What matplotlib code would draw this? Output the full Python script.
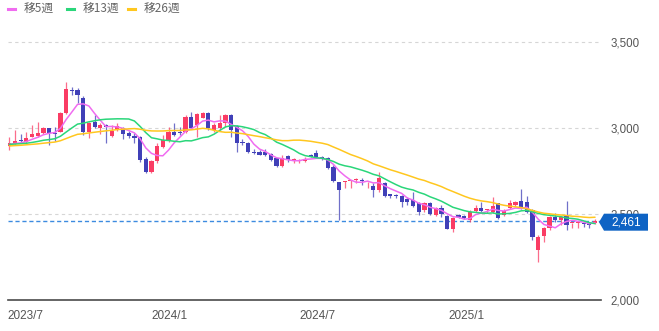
import numpy as np
import pandas as pd
import matplotlib
matplotlib.use("Agg")
import matplotlib.pyplot as plt
import matplotlib.transforms as mtransforms
from matplotlib.lines import Line2D
from matplotlib.patches import Polygon

# weekly bars, first week starting 2023-07-10
week_start = "2023-07-10"

opens = [2895, 2911, 2932, 2921, 2950, 2955, 2969, 2998, 2973, 2979,
         3089, 3221, 3221, 3172, 2979, 3037, 2998, 3017, 2953, 2994,
         2998, 2972, 2955, 2950, 2818, 2746, 2806, 2891, 2930, 2979,
         2975, 2979, 3066, 3017, 3060, 3085, 2990, 3000, 3027, 3076,
         3010, 2920, 2911, 2862, 2860, 2862, 2846, 2824, 2779, 2839,
         2810, 2810, 2810, 2843, 2853, 2833, 2824, 2775, 2688, 2688,
         2692, 2696, 2698, 2672, 2660, 2640, 2678, 2614, 2611, 2607,
         2587, 2582, 2562, 2523, 2566, 2494, 2537, 2490, 2415, 2494,
         2490, 2465, 2520, 2533, 2522, 2514, 2562, 2494, 2533, 2552,
         2578, 2572, 2523, 2291, 2372, 2417, 2485, 2465, 2494, 2446,
         2448, 2450, 2448, 2446]
highs = [2950, 2988, 2965, 2979, 3017, 3037, 3005, 3000, 3008, 3095,
         3269, 3240, 3231, 3185, 3037, 3075, 3027, 3021, 3017, 3027,
         3005, 2980, 2969, 2955, 2833, 2814, 2911, 2959, 3008, 3027,
         3008, 3076, 3095, 3085, 3090, 3090, 3027, 3076, 3080, 3080,
         3017, 2935, 2920, 2876, 2872, 2876, 2853, 2828, 2843, 2843,
         2824, 2818, 2833, 2849, 2872, 2837, 2833, 2785, 2688, 2694,
         2700, 2707, 2707, 2688, 2678, 2746, 2688, 2617, 2614, 2611,
         2600, 2630, 2572, 2568, 2572, 2543, 2552, 2494, 2485, 2500,
         2494, 2523, 2552, 2572, 2529, 2601, 2566, 2527, 2581, 2578,
         2643, 2605, 2527, 2378, 2426, 2489, 2504, 2481, 2576, 2450,
         2456, 2450, 2448, 2469]
lows = [2872, 2901, 2920, 2915, 2945, 2950, 2965, 2901, 2926, 2975,
        3080, 3192, 3143, 2960, 2940, 2998, 2965, 2911, 2948, 2985,
        2935, 2940, 2911, 2800, 2740, 2737, 2795, 2882, 2920, 2955,
        2960, 2969, 2992, 2950, 3055, 2988, 2979, 2988, 3008, 2950,
        2858, 2900, 2853, 2849, 2843, 2839, 2810, 2775, 2775, 2804,
        2798, 2795, 2804, 2829, 2829, 2814, 2760, 2688, 2465, 2650,
        2650, 2680, 2669, 2649, 2600, 2630, 2600, 2591, 2591, 2543,
        2552, 2543, 2494, 2514, 2494, 2490, 2485, 2410, 2395, 2475,
        2470, 2456, 2514, 2514, 2504, 2504, 2469, 2489, 2527, 2546,
        2527, 2504, 2349, 2223, 2339, 2407, 2456, 2436, 2407, 2417,
        2417, 2426, 2417, 2440]
closes = [2911, 2924, 2926, 2944, 2965, 2969, 2998, 2969, 2965, 3089,
          3225, 3215, 3192, 2979, 3027, 3008, 3017, 3008, 2984, 3013,
          2965, 2955, 2940, 2814, 2746, 2806, 2895, 2930, 2979, 2959,
          2970, 3066, 2998, 3081, 3085, 2998, 3015, 3027, 3076, 2990,
          2911, 2915, 2862, 2853, 2845, 2843, 2814, 2779, 2824, 2814,
          2818, 2812, 2820, 2833, 2833, 2818, 2765, 2694, 2640, 2692,
          2698, 2700, 2690, 2675, 2640, 2707, 2607, 2607, 2605, 2572,
          2572, 2548, 2514, 2562, 2498, 2533, 2498, 2415, 2478, 2480,
          2478, 2514, 2533, 2520, 2527, 2547, 2475, 2517, 2562, 2572,
          2533, 2514, 2368, 2364, 2417, 2485, 2465, 2480, 2436, 2450,
          2456, 2440, 2436, 2461]
# closes of the 25 weeks before the first bar (needed for the averages)
prev_closes = [2868, 2880, 2874, 2890, 2902, 2895, 2884, 2878, 2886, 2893,
               2881, 2889, 2897, 2905, 2899, 2910, 2902, 2896, 2908, 2915,
               2903, 2898, 2910, 2906, 2900]

ma_weeks = [5, 13, 26]
ma_labels = ["移5週", "移13週", "移26週"]
ma_colors = ["#f06cf0", "#2ad67a", "#ffc71f"]

month_labels = ["2023/7", "2024/1", "2024/7", "2025/1"]
y_ticks = [2000, 2500, 3000, 3500]
last_price = closes[-1]

UP = "#fa3c64"
DOWN = "#4040b8"
W, H = 659, 331

plt.rcParams["font.family"] = ["Liberation Sans", "DejaVu Sans"]

fig = plt.figure(figsize=(W / 100, H / 100), dpi=100)
ax = fig.add_axes([7.6 / W, 31 / H, (601 - 7.6) / W, (303 - 31) / H])

o = np.array(opens, float)
h = np.array(highs, float)
l = np.array(lows, float)
c = np.array(closes, float)
n = len(c)
x = np.arange(n)
dates = pd.date_range(week_start, periods=n, freq="W-MON")

# candles
up = c >= o
cols = np.where(up, UP, DOWN)
ax.vlines(x, l, h, colors=cols, lw=0.9, alpha=0.75, zorder=2)
body_lo = np.minimum(o, c)
body_h = np.maximum(np.abs(c - o), 5)
ax.bar(x, body_h, bottom=body_lo, width=0.74, color=cols, linewidth=0, zorder=3)

# moving averages
all_close = pd.Series(np.r_[prev_closes, closes].astype(float))
for w, col in zip(ma_weeks, ma_colors):
    ma = all_close.rolling(w).mean().to_numpy()[len(prev_closes):]
    ax.plot(x, ma, color=col, lw=1.1, zorder=4, solid_capstyle="round")

# grid and base line
for v in y_ticks[1:]:
    ax.axhline(v, color="#d6d6d6", lw=0.8, ls=(0, (3, 3)), zorder=0)
ax.axhline(2000, color="#4a4a4a", lw=1.2, zorder=1, clip_on=False)
ax.axhline(last_price, color="#3d8be0", lw=1.0, ls=(0, (3, 2)), zorder=1)

ax.set_xlim(-0.3, n + 0.05)
ax.set_ylim(2000, 3581)
for s in ax.spines.values():
    s.set_visible(False)

ax.yaxis.tick_right()
ax.set_yticks(y_ticks, [f"{v:,}" for v in y_ticks])
ax.tick_params(axis="y", length=0, pad=7, labelsize=8.3, labelcolor="#555555")

# month ticks: position of the 1st of the month in weeks from the first bar
tick_pos = []
for lab in month_labels:
    yy, mm = lab.split("/")
    d = pd.Timestamp(int(yy), int(mm), 1)
    tick_pos.append(max((d - dates[0]).days / 7, -0.3))
ax.set_xticks(tick_pos, month_labels)
for t in ax.get_xticklabels():
    t.set_ha("left")
ax.tick_params(axis="x", length=0, pad=7, labelsize=8.5, labelcolor="#555555")

# last price tag (sits over the 2,500 label, as on the site)
aw = 601 - 7.6
trans = mtransforms.blended_transform_factory(ax.transAxes, ax.transData)
px = 272 / 1581
hh = 8.5 / px
tip = (599 - 7.6) / aw
x0 = (604 - 7.6) / aw
x1 = (648 - 7.6) / aw
yc = last_price - 1.5 / px
tag = Polygon([(tip, yc), (x0, yc + hh), (x1, yc + hh),
               (x1, yc - hh), (x0, yc - hh)],
              closed=True, transform=trans, facecolor="#0e63c4",
              edgecolor="none", clip_on=False, zorder=10)
ax.add_patch(tag)
ax.text((x0 + x1) / 2, yc, f"{last_price:,}", transform=trans,
        color="white", fontsize=8.5, ha="center", va="center",
        zorder=11, clip_on=False)

# legend along the top
for lx, tx, lab, col in zip([8, 67, 128], [24, 83, 144], ma_labels, ma_colors):
    fig.add_artist(Line2D([lx / W, (lx + 7) / W], [(H - 9) / H] * 2,
                          color=col, lw=2.2, transform=fig.transFigure))
    fig.text(tx / W, (H - 9) / H, lab, color="#666666", fontsize=8.5,
             va="center", ha="left", family=["Noto Sans CJK JP", "DejaVu Sans"])

fig.savefig("out.png", dpi=100)
